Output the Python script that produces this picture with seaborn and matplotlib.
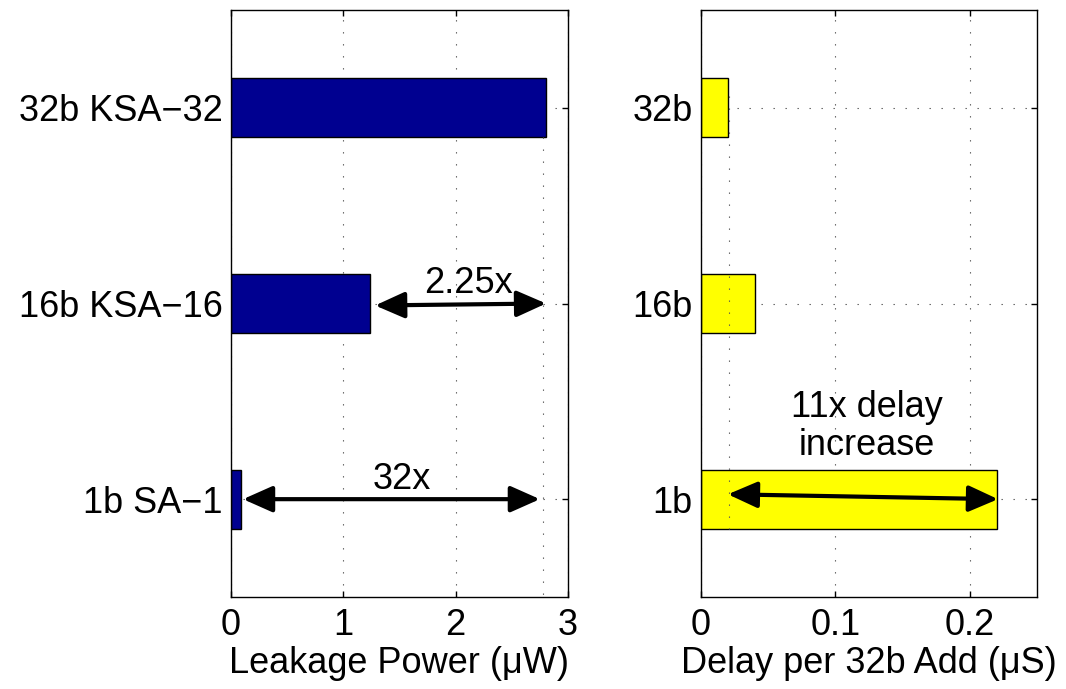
import matplotlib
matplotlib.use("Agg")
import matplotlib.pyplot as plt
import seaborn as sns
import pandas as pd

# Data
left_categories = ["32b KSA\u221232", "16b KSA\u221216", "1b SA\u22121"]
leakage_power = [2.8, 1.24, 0.0875]
right_categories = ["32b", "16b", "1b"]
delay_per_add = [0.02, 0.04, 0.22]

left_xticks = [0, 1, 2, 3]
right_xticks = [0, 0.1, 0.2]

sns.set_theme(style="white")
plt.rcParams["font.family"] = ["Liberation Sans", "DejaVu Sans"]
for k in ["text.color", "axes.labelcolor", "xtick.color", "ytick.color"]:
    plt.rcParams[k] = "black"
FS = 26

fig = plt.figure(figsize=(10.66, 6.89), dpi=100)
axL = fig.add_axes([231 / 1066, 92 / 689, 337 / 1066, 587 / 689])
axR = fig.add_axes([701 / 1066, 92 / 689, 336 / 1066, 587 / 689])

dfL = pd.DataFrame({"cat": left_categories, "val": leakage_power})
dfR = pd.DataFrame({"cat": right_categories, "val": delay_per_add})

sns.barplot(data=dfL, x="val", y="cat", order=left_categories, orient="h",
            width=0.3, color="#000090", saturation=1, edgecolor="black",
            linewidth=1.0, ax=axL, zorder=2)
sns.barplot(data=dfR, x="val", y="cat", order=right_categories, orient="h",
            width=0.3, color="#FFFF00", saturation=1, edgecolor="black",
            linewidth=1.0, ax=axR, zorder=2)

dot = (0, (1.2, 9.6))
for ax, xt, xlim, xlabel in [
    (axL, left_xticks, (0, 3), "Leakage Power (\u03bcW)"),
    (axR, right_xticks, (0, 0.25), "Delay per 32b Add (\u03bcS)"),
]:
    ax.set_xlim(*xlim)
    ax.set_ylim(2.5, -0.5)
    ax.set_xticks(xt)
    ax.set_xticklabels([f"{v:g}" for v in xt])
    ax.set_xlabel(xlabel, fontsize=FS, labelpad=2)
    ax.set_ylabel("")
    ax.tick_params(axis="both", which="both", direction="in", length=4,
                   width=1, top=True, right=True, bottom=True, left=True,
                   labelsize=FS, color="black", labelcolor="black")
    ax.tick_params(axis="x", pad=8)
    ax.tick_params(axis="y", pad=6)
    ax.set_axisbelow(True)
    ax.grid(True, linestyle=dot, linewidth=0.8, color="#555555")
    for s in ax.spines.values():
        s.set_visible(True)
        s.set_color("black")
        s.set_linewidth(1.0)

# Guide lines
axL.plot([2.78, 2.78], [0.15, 2.5], linestyle=dot, linewidth=0.8,
         color="#555555", zorder=3)
axR.plot([0.0205, 0.0205], [-0.06, 2.15], linestyle=dot, linewidth=0.8,
         color="#555555", zorder=3)

arrow = dict(arrowstyle="<|-|>,head_length=0.9,head_width=0.4", lw=3,
             color="black", shrinkA=0, shrinkB=0, mutation_scale=20)

axL.annotate("", xy=(2.805, 1.0), xytext=(1.283, 1.01), arrowprops=arrow, zorder=4)
axL.text(2.11, 0.9, "2.25x", fontsize=FS, ha="center", va="center", zorder=5)

axL.annotate("", xy=(2.75, 2.0), xytext=(0.107, 2.0), arrowprops=arrow, zorder=4)
axL.text(1.52, 1.9, "32x", fontsize=FS, ha="center", va="center", zorder=5)

axR.annotate("", xy=(0.221, 2.0), xytext=(0.020, 1.975), arrowprops=arrow, zorder=4)
axR.text(0.1235, 1.627, "11x delay\nincrease", fontsize=FS, ha="center",
         va="center", linespacing=1.1, zorder=5)

fig.savefig("out.png", dpi=100)
